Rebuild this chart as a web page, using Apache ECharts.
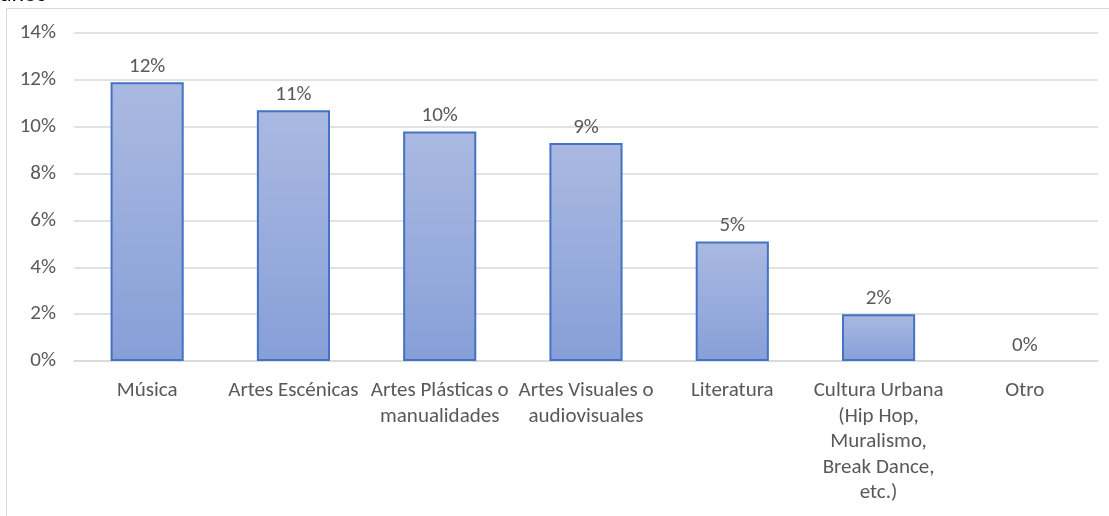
<!DOCTYPE html>
<html>
<head>
<meta charset="utf-8">
<script src="https://cdn.jsdelivr.net/npm/echarts@6/dist/echarts.min.js"></script>
<style>html,body{margin:0;padding:0;background:#fff}#c{width:1109px;height:516px}</style>
</head>
<body>
<div id="c"></div>
<script>
const categories = ['Música', 'Artes Escénicas', 'Artes Plásticas o\nmanualidades', 'Artes Visuales o\naudiovisuales', 'Literatura', 'Cultura Urbana\n(Hip Hop,\nMuralismo,\nBreak Dance,\netc.)', 'Otro'];
const values = [11.9, 10.7, 9.8, 9.3, 5.1, 2.0, 0];
const yTicks = [0, 2, 4, 6, 8, 10, 12, 14];

const chart = echarts.init(document.getElementById('c'));
const font = 'Carlito, "Open Sans", "Noto Sans", sans-serif';
chart.setOption({
  animation: false,
  graphic: [
    { type: 'rect', shape: { x: 6.5, y: 8.5, width: 1200, height: 600 }, style: { fill: 'none', stroke: '#d9d9d9', lineWidth: 1 }, silent: true },
    { type: 'text', x: 0, y: 7, style: { text: 'años', fontSize: 24, fill: '#000', fontFamily: font, verticalAlign: 'bottom' } }
  ],
  grid: { left: 74, right: 11, top: 33, bottom: 155, containLabel: false },
  xAxis: {
    type: 'category',
    data: categories,
    axisTick: { show: false },
    axisLine: { lineStyle: { color: '#d9d9d9', width: 1.5 } },
    axisLabel: { color: '#595959', fontSize: 21, fontFamily: font, lineHeight: 25.5, margin: 17, interval: 0 }
  },
  yAxis: {
    type: 'value', min: 0, max: 14, interval: 2,
    axisLine: { show: false }, axisTick: { show: false },
    splitLine: { lineStyle: { color: '#d9d9d9', width: 1.5 } },
    axisLabel: { color: '#595959', fontSize: 21, fontFamily: font, margin: 18, formatter: v => yTicks.includes(v) ? v + '%' : '' }
  },
  series: [{
    type: 'bar',
    data: values.map(v => v === 0 ? { value: v, itemStyle: { borderWidth: 0 } } : v),
    barWidth: '50%',
    itemStyle: {
      color: new echarts.graphic.LinearGradient(0, 0, 0, 1, [
        { offset: 0, color: '#aab9e1' },
        { offset: 1, color: '#879fd8' }
      ]),
      borderColor: '#4472c4', borderWidth: 2
    },
    label: {
      show: true, position: 'top', distance: 5,
      color: '#595959', fontSize: 21, fontFamily: font,
      formatter: p => Math.round(p.value) + '%'
    }
  }]
});
</script>
</body>
</html>
